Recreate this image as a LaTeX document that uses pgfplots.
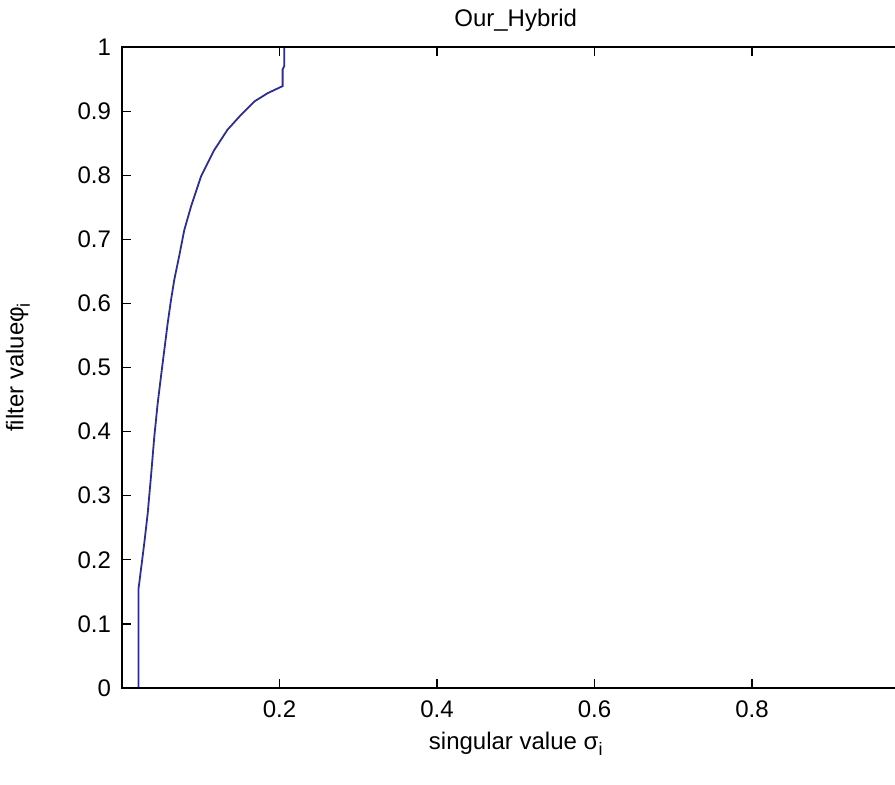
\documentclass[border=0pt]{standalone}
\usepackage{fontspec}
\setmainfont{Liberation Sans}
\usepackage{pgfplots}
\pgfplotsset{compat=1.18}
\definecolor{curve}{RGB}{45,45,150}
\begin{document}
\begin{tikzpicture}
\begin{axis}[name=ax,
  scale only axis, width=393.75pt, height=320.5pt,
  xmin=0, xmax=1, ymin=0, ymax=1,
  xtick={0.2,0.4,0.6,0.8}, xticklabels={0.2,0.4,0.6,0.8},
  ytick={0,0.1,...,1}, yticklabels={0,0.1,0.2,0.3,0.4,0.5,0.6,0.7,0.8,0.9,1},
  tick align=inside, major tick length=4.5pt,
  xtick pos=both, ytick pos=both,
  axis line style={line width=0.7pt}, every tick/.style={black, line width=0.6pt},
  font=\fontsize{12}{14}\selectfont,
  /pgf/number format/assume math mode=true,
  xticklabel style={yshift=-3pt},
  yticklabel style={xshift=-2pt},
  title={Our\_Hybrid}, title style={yshift=-2pt},
  xlabel={singular value σ\raisebox{-0.5ex}{\fontsize{9}{10}\selectfont i}},
  ylabel={filter valueφ\raisebox{-0.5ex}{\fontsize{9}{10}\selectfont i}},
  xlabel style={yshift=0pt},
  ylabel style={yshift=17pt},
  axis on top, clip=true,
]
\addplot[curve, line width=0.9pt] coordinates {
(0.021,0) (0.021,0.155) (0.024,0.184) (0.0283,0.226) (0.0326,0.272) (0.0368,0.330)
(0.041,0.392) (0.0453,0.444) (0.0495,0.486) (0.0537,0.527) (0.058,0.569)
(0.0622,0.605) (0.0664,0.637) (0.0728,0.675) (0.079,0.714)
(0.0876,0.751) (0.1003,0.798) (0.117,0.839) (0.134,0.871) (0.151,0.894)
(0.168,0.915) (0.185,0.928) (0.204,0.939) (0.204,0.965) (0.206,0.970)
(0.206,1) (1,1)
};
\end{axis}
\pgfresetboundingbox
\path[use as bounding box] ([xshift=-61pt,yshift=-48pt]ax.south west) rectangle ++(447.5pt,392pt);
\end{tikzpicture}
\end{document}
